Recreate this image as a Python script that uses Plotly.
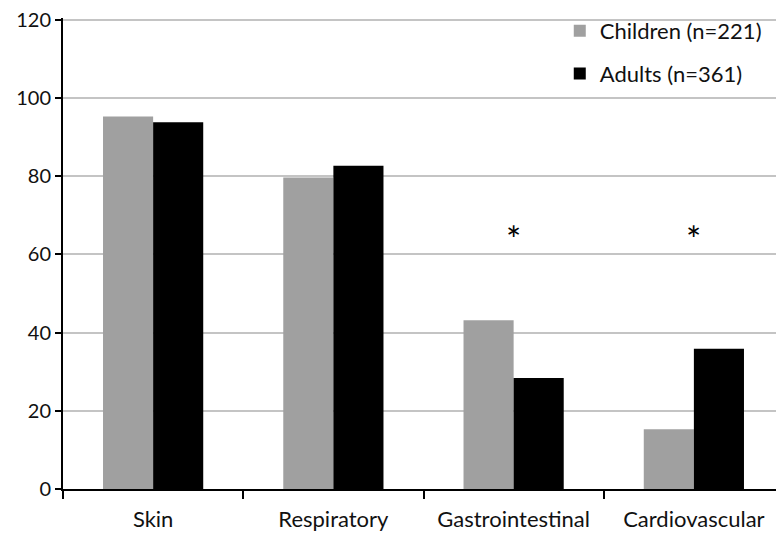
import plotly.graph_objects as go

categories = ["Skin", "Respiratory", "Gastrointestinal", "Cardiovascular"]
children = [95.3, 79.7, 43.2, 15.3]
adults = [93.8, 82.7, 28.4, 35.9]
sig_categories = ["Gastrointestinal", "Cardiovascular"]
sig_level = [66, 66]
y_ticks = [0, 20, 40, 60, 80, 100, 120]

FONT = "Lato"
TXT = "#111111"

fig = go.Figure()
fig.add_trace(go.Bar(x=categories, y=children, name="Children (n=221)",
                     marker=dict(color="#a0a0a0", line=dict(width=0)),
                     legendgroup="c"))
fig.add_trace(go.Bar(x=categories, y=adults, name="Adults (n=361)",
                     marker=dict(color="#000000", line=dict(width=0)),
                     legendgroup="a"))

for c, v in zip(sig_categories, sig_level):
    fig.add_annotation(x=c, y=v, text="*", showarrow=False, yshift=-8,
                       font=dict(family=FONT, size=36, color="#000000"))

fig.update_layout(
    width=776, height=529,
    margin=dict(l=55, r=0, t=10, b=48, autoexpand=False),
    paper_bgcolor="white", plot_bgcolor="white",
    barmode="group", bargap=0.444, bargroupgap=0,
    font=dict(family=FONT, size=22, color=TXT),
    legend=dict(x=0.689, y=1.017, xanchor="left", yanchor="top",
                bgcolor="rgba(0,0,0,0)", tracegroupgap=11,
                traceorder="grouped",
                font=dict(family=FONT, size=22, color=TXT)),
    showlegend=True,
)
fig.update_xaxes(showline=True, linecolor="black", linewidth=2,
                 ticks="outside", tickson="boundaries", ticklen=8,
                 tickcolor="black", tickwidth=2, showgrid=False,
                 ticklabelstandoff=10, automargin=False,
                 tickfont=dict(family=FONT, size=22, color=TXT))
fig.update_yaxes(range=[0, 120.5], tickvals=y_ticks, showline=True,
                 linecolor="black", linewidth=2, ticks="outside",
                 ticklen=6, tickcolor="black", tickwidth=2,
                 showgrid=True, gridcolor="#c4c4c4", gridwidth=1.5,
                 zeroline=False, automargin=False,
                 ticklabeloverflow="allow",
                 tickfont=dict(family=FONT, size=20, color=TXT))

fig.write_html("out.html")
